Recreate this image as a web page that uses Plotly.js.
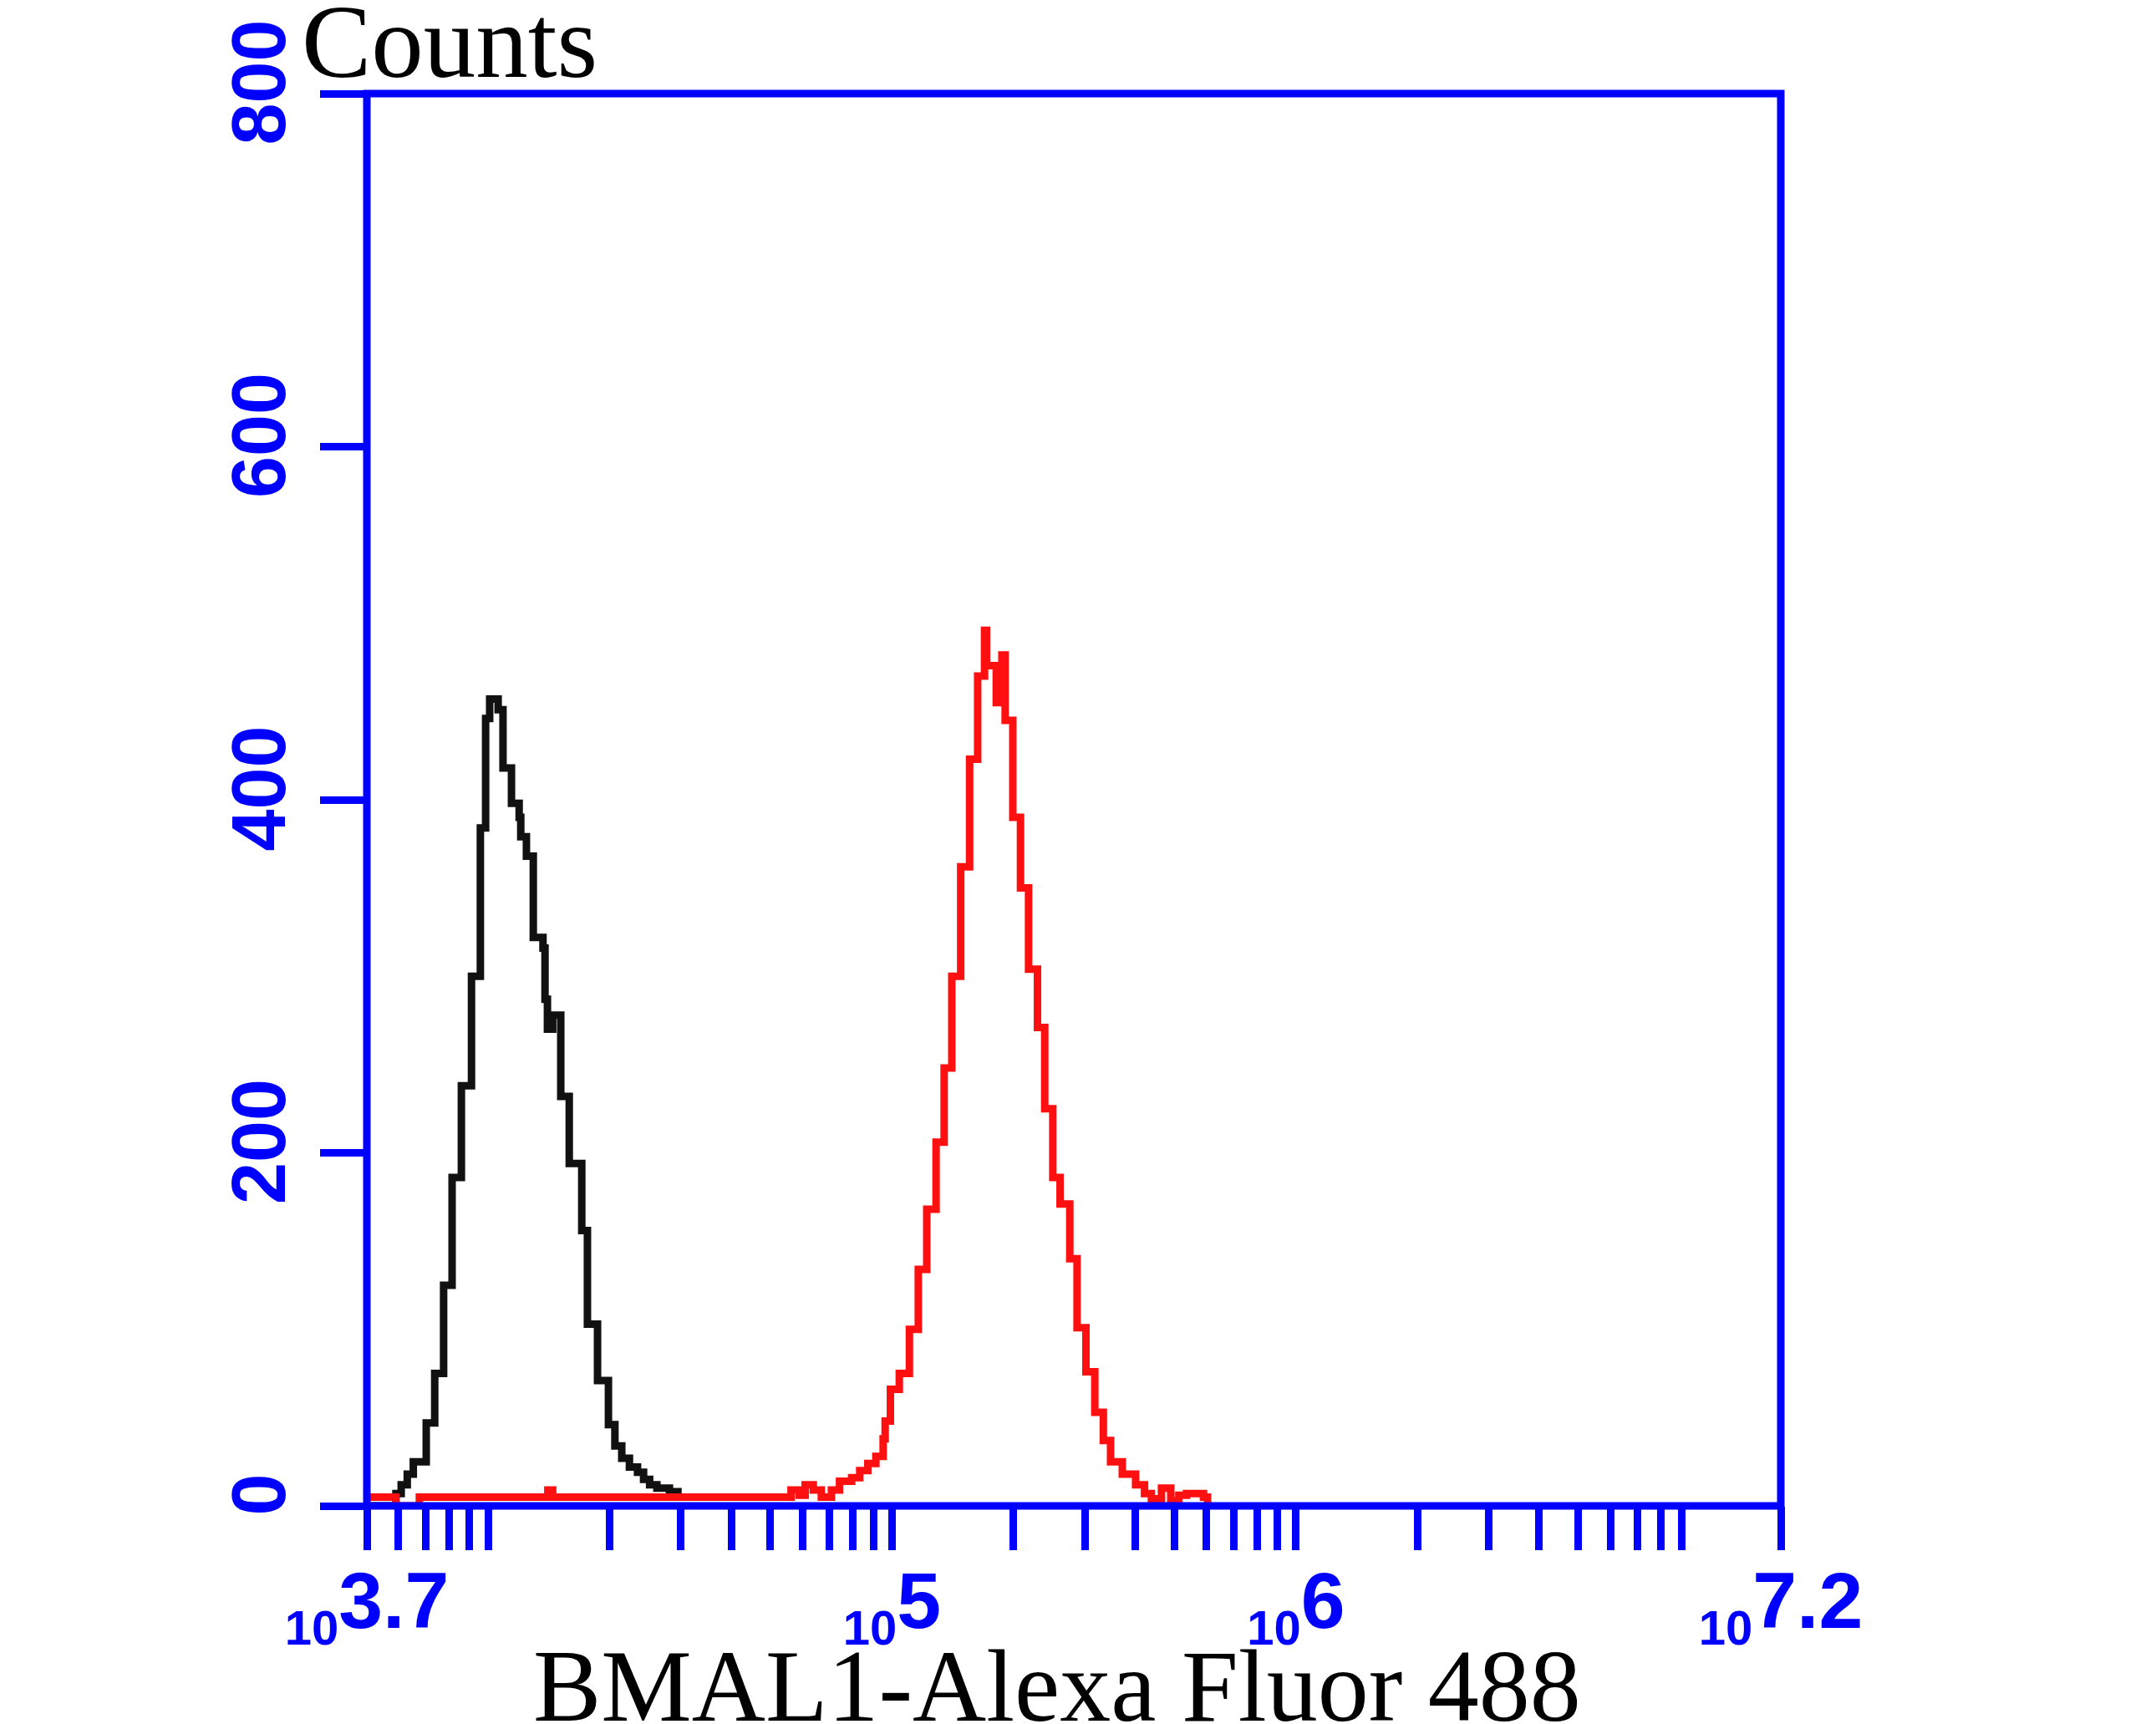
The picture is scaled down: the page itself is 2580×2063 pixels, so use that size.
<!DOCTYPE html>
<html>
<head>
<meta charset="utf-8">
<script src="https://cdn.plot.ly/plotly-3.0.1.min.js"></script>
<style>html,body{margin:0;padding:0;background:#fff;}#chart{width:2580px;height:2063px;}</style>
</head>
<body>
<div id="chart"></div>
<script>
// Control (isotype) histogram: bin start, in log10(fluorescence), and counts
const blackLog10 = [3.700, 3.772, 3.785, 3.800, 3.815, 3.847, 3.868, 3.890, 3.911, 3.934, 3.959, 3.981, 3.994, 4.004, 4.025, 4.037, 4.058, 4.077, 4.081, 4.095, 4.112, 4.136, 4.141, 4.147, 4.160, 4.180, 4.201, 4.232, 4.246, 4.271, 4.298, 4.314, 4.331, 4.350, 4.370, 4.385, 4.400, 4.418, 4.449, 4.470, 4.500];
const blackCounts = [0, 7, 12, 18, 25, 47, 75, 125, 186, 238, 300, 384, 446, 457, 451, 418, 398, 390, 379, 368, 322, 316, 287, 270, 278, 232, 194, 156, 103, 71, 46, 34, 27, 22, 19, 15, 12, 10, 8, 5, 5];

// BMAL1 stained histogram
const redLog10 = [3.700, 3.772, 3.830, 4.148, 4.160, 4.740, 4.750, 4.770, 4.785, 4.805, 4.825, 4.850, 4.870, 4.900, 4.920, 4.940, 4.960, 4.978, 4.983, 4.996, 5.018, 5.043, 5.065, 5.086, 5.109, 5.129, 5.148, 5.170, 5.192, 5.212, 5.229, 5.234, 5.258, 5.272, 5.280, 5.299, 5.318, 5.338, 5.360, 5.378, 5.398, 5.416, 5.440, 5.458, 5.480, 5.502, 5.523, 5.541, 5.570, 5.603, 5.625, 5.642, 5.667, 5.690, 5.710, 5.729, 5.771, 5.781];
const redCounts = [5, 0, 5, 9, 5, 5, 9, 6, 12, 9, 5, 9, 14, 16, 20, 24, 28, 38, 48, 66, 75, 100, 134, 168, 206, 248, 300, 362, 423, 470, 496, 476, 455, 482, 445, 390, 350, 304, 271, 225, 186, 171, 140, 101, 76, 53, 37, 25, 18, 12, 7, 4, 10, 3, 6, 7, 5, 1];

// Axis ticks
const xRangeLog10 = [3.7, 7.2];
const xLabelLog10 = [3.7, 5, 6, 7.2];
const xTickLabels = ['<sub><span style="font-size:58px">10</span></sub>3.7', '<sub><span style="font-size:58px">10</span></sub>5', '<sub><span style="font-size:58px">10</span></sub>6', '<sub><span style="font-size:58px">10</span></sub>7.2'];
const xMinorMantissas = [1, 2, 3, 4, 5, 6, 7, 8, 9];
const xMinorDecades = [3, 4, 5, 6];
const yTickVals = [0, 200, 400, 600, 800];
const yTickLabels = ['0', '200', '400', '600', '800'];

const xTitle = 'BMAL1-Alexa Fluor 488';
const yTitle = 'Counts';

const toLinear = arr => arr.map(e => Math.pow(10, e));

// Minor ticks: every 1..9 x 10^n strictly inside the range, except the labelled ones
const minorVals = [];
xMinorDecades.forEach(d => {
  xMinorMantissas.forEach(m => {
    const v = m * Math.pow(10, d);
    const lv = Math.log10(v);
    if (lv > xRangeLog10[0] + 1e-6 && lv < xRangeLog10[1] - 1e-6 && !xLabelLog10.some(e => Math.abs(e - lv) < 1e-6)) {
      minorVals.push(v);
    }
  });
});

const BLUE = '#0000ff';
const xTickFont = {family: 'Liberation Sans, Arial, sans-serif', size: 95, color: BLUE, weight: 'bold'};
const yTickFont = {family: 'Liberation Sans, Arial, sans-serif', size: 90, color: BLUE, weight: 'bold'};

const traces = [
  {x: toLinear(blackLog10), y: blackCounts, type: 'scatter', mode: 'lines',
   line: {color: '#111111', width: 9, shape: 'hv'}, hoverinfo: 'skip'},
  {x: toLinear(redLog10), y: redCounts, type: 'scatter', mode: 'lines',
   line: {color: '#ff1010', width: 9, shape: 'hv'}, hoverinfo: 'skip'}
];

const layout = {
  width: 2580, height: 2063,
  margin: {l: 439, r: 449, t: 112, b: 261, pad: 0},
  paper_bgcolor: '#ffffff', plot_bgcolor: '#ffffff',
  showlegend: false,
  xaxis: {
    type: 'log', range: xRangeLog10, autorange: false,
    showline: false,
    ticks: 'outside', ticklen: 52, tickwidth: 9, tickcolor: BLUE,
    tickmode: 'array', tickvals: toLinear(xLabelLog10), ticktext: xTickLabels, tickangle: 0,
    tickfont: xTickFont, ticklabelstandoff: -21,
    minor: {tickmode: 'array', tickvals: minorVals, ticks: 'outside', ticklen: 52, tickwidth: 9, tickcolor: BLUE, showgrid: false},
    showgrid: false, zeroline: false
  },
  yaxis: {
    range: [0, 800], autorange: false,
    showline: false,
    ticks: 'outside', ticklen: 55, tickwidth: 9, tickcolor: BLUE,
    tickmode: 'array', tickvals: yTickVals, ticktext: yTickLabels, tickangle: -90,
    tickfont: yTickFont, ticklabelstandoff: 6,
    showgrid: false, zeroline: false
  },
  shapes: [
    {type: 'rect', xref: 'paper', yref: 'paper', x0: 0, x1: 1, y0: 0, y1: 1,
     line: {color: BLUE, width: 9}, fillcolor: 'rgba(0,0,0,0)', layer: 'above'}
  ],
  annotations: [
    {text: yTitle, xref: 'paper', yref: 'paper', x: -0.0473, y: 1.0367,
     xanchor: 'left', yanchor: 'middle', showarrow: false,
     font: {family: 'Liberation Serif, Times New Roman, serif', size: 125, color: '#000000'}},
    {text: xTitle, xref: 'paper', yref: 'paper', x: 0.488, y: -0.1275,
     xanchor: 'center', yanchor: 'middle', showarrow: false,
     font: {family: 'Liberation Serif, Times New Roman, serif', size: 122, color: '#000000'}}
  ]
};

Plotly.newPlot('chart', traces, layout, {staticPlot: true, displayModeBar: false});
</script>
</body>
</html>
